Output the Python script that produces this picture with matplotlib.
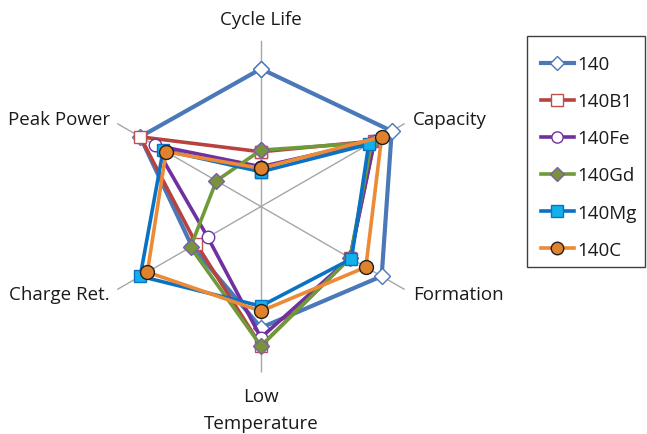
import numpy as np
import matplotlib
matplotlib.use("Agg")
import matplotlib.pyplot as plt
from matplotlib.lines import Line2D
from matplotlib.patches import Rectangle

plt.rcParams['font.family'] = ['Open Sans', 'DejaVu Sans']

categories = ["Cycle Life", "Capacity", "Formation", "Low\nTemperature", "Charge Ret.", "Peak Power"]

s_140 = [0.83, 0.91, 0.84, 0.73, 0.48, 0.84]
s_140b1 = [0.33, 0.79, 0.62, 0.84, 0.45, 0.84]
s_140fe = [0.24, 0.79, 0.62, 0.79, 0.37, 0.74]
s_140gd = [0.34, 0.77, 0.62, 0.84, 0.49, 0.31]
s_140mg = [0.21, 0.75, 0.63, 0.60, 0.84, 0.68]
s_140c = [0.23, 0.84, 0.73, 0.63, 0.79, 0.66]

series_names = ["140", "140B1", "140Fe", "140Gd", "140Mg", "140C"]
series_values = [s_140, s_140b1, s_140fe, s_140gd, s_140mg, s_140c]

styles = [
    dict(color="#4a78b8", lw=3.0, marker="D", ms=8, mfc="white", mec="#4a78b8", mew=1.0),
    dict(color="#b8423f", lw=2.6, marker="s", ms=9, mfc="white", mec="#c0504d", mew=1.0),
    dict(color="#7030a0", lw=2.6, marker="o", ms=9, mfc="white", mec="#7030a0", mew=1.0),
    dict(color="#6f9a3a", lw=2.6, marker="D", ms=8, mfc="#77933c", mec="#7f5fa8", mew=1.0),
    dict(color="#0a72c4", lw=2.6, marker="s", ms=9, mfc="#14b0ec", mec="#0a72c4", mew=1.0),
    dict(color="#ed8a35", lw=2.6, marker="o", ms=10, mfc="#e0812e", mec="#202020", mew=1.0),
]

W, H = 647, 435
fig = plt.figure(figsize=(W / 100, H / 100), dpi=100)
ax = fig.add_axes([0.1468, 0.1414, 0.513, 0.763], projection="polar")
ax.set_theta_offset(np.pi / 2)
ax.set_theta_direction(-1)

n = len(categories)
angles = np.linspace(0, 2 * np.pi, n, endpoint=False)
closed = np.concatenate([angles, angles[:1]])

handles = []
for name, vals, st in zip(series_names, series_values, styles):
    v = np.concatenate([vals, vals[:1]])
    ax.plot(closed, v, color=st["color"], lw=st["lw"], marker=st["marker"],
            ms=st["ms"], mfc=st["mfc"], mec=st["mec"], mew=st["mew"],
            solid_joinstyle="miter", zorder=3, clip_on=False)
    handles.append(Line2D([], [], color=st["color"], lw=st["lw"], marker=st["marker"],
                          ms=st["ms"] * 0.9, mfc=st["mfc"], mec=st["mec"], mew=st["mew"]))

ax.set_ylim(0, 1)
ax.set_yticks([])
ax.set_xticks(angles)
ax.set_xticklabels([])
ax.xaxis.grid(True, color="#a6a6a6", lw=1.0)
ax.yaxis.grid(False)
ax.spines["polar"].set_visible(False)
ax.set_facecolor("none")

# category labels around the spokes
lab_kw = dict(fontsize=13.5, color="#1a1a1a")
ax.text(angles[0], 1.13, categories[0], ha="center", va="center", **lab_kw)
ax.text(angles[1], 1.06, categories[1], ha="left", va="center", **lab_kw)
ax.text(angles[2], 1.06, categories[2], ha="left", va="center", **lab_kw)
ax.text(angles[3], 1.09, categories[3], ha="center", va="top", linespacing=1.6, **lab_kw)
ax.text(angles[4], 1.05, categories[4], ha="right", va="center", **lab_kw)
ax.text(angles[5], 1.05, categories[5], ha="right", va="center", **lab_kw)

# legend entries, with a plain box drawn around them
leg = fig.legend(handles, series_names, loc="upper left",
                 bbox_to_anchor=(527 / W, 1 - 42 / H), fontsize=13.5,
                 frameon=False, handlelength=1.75, handletextpad=0.2,
                 labelspacing=1.02, borderpad=0.75, borderaxespad=0.0)
for t in leg.get_texts():
    t.set_color("#1a1a1a")

box = Rectangle((527 / W, 1 - 268 / H), (645 - 527) / W, (268 - 37) / H,
                transform=fig.transFigure, fill=False, edgecolor="#404040", lw=1.0)
fig.add_artist(box)

fig.savefig("out.png", dpi=100, facecolor="white")
